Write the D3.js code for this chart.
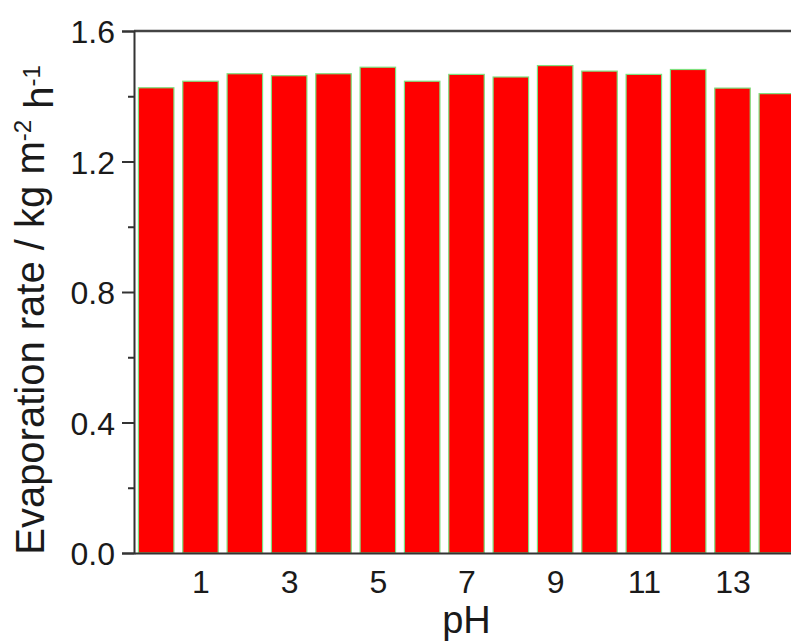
<!DOCTYPE html>
<html>
<head>
<meta charset="utf-8">
<script src="https://cdn.jsdelivr.net/npm/d3@7"></script>
<style>
  body { margin: 0; background: #fff; }
  svg { display: block; font-family: "Liberation Sans", Arial, sans-serif; }
</style>
</head>
<body>
<svg id="chart"></svg>
<script>
// pH values and evaporation rates (kg m-2 h-1)
const phValues = [0, 1, 2, 3, 4, 5, 6, 7, 8, 9, 10, 11, 12, 13, 14];
const rates = [1.426, 1.446, 1.469, 1.463, 1.469, 1.489, 1.446, 1.467, 1.459, 1.494, 1.477, 1.467, 1.482, 1.425, 1.408];
const xTickValues = [1, 3, 5, 7, 9, 11, 13];
const yTickValues = [0.0, 0.4, 0.8, 1.2, 1.6];
const yMinorTicks = [0.2, 0.6, 1.0, 1.4];

const width = 791;
const height = 641;
const margin = { top: 31, right: -8, bottom: 88, left: 134 };

const svg = d3.select("#chart")
    .attr("width", width)
    .attr("height", height);

const x = d3.scaleLinear()
    .domain([-0.5, 14.5])
    .range([margin.left, width - margin.right]);

const y = d3.scaleLinear()
    .domain([0, 1.6])
    .range([height - margin.bottom, margin.top]);

const step = x(1) - x(0);
const barWidth = step * 0.8;

// bars
svg.append("g")
    .selectAll("rect")
    .data(phValues)
    .enter()
    .append("rect")
    .attr("x", (d, i) => x(d) - barWidth / 2)
    .attr("y", (d, i) => y(rates[i]))
    .attr("width", barWidth)
    .attr("height", (d, i) => y(0) - y(rates[i]))
    .attr("fill", "#ff0000")
    .attr("stroke", "#7ee07e")
    .attr("stroke-width", 1.2);

const axisColor = "#333";

// frame (top line)
svg.append("line")
    .attr("x1", x(-0.5)).attr("x2", x(14.5))
    .attr("y1", y(1.6)).attr("y2", y(1.6))
    .attr("stroke", "#444")
    .attr("stroke-width", 2.5);

// y axis
const yAxis = svg.append("g")
    .attr("transform", `translate(${margin.left},0)`)
    .call(d3.axisLeft(y)
        .tickValues(yTickValues)
        .tickFormat(d3.format(".1f"))
        .tickSize(12)
        .tickPadding(7));

svg.append("g")
    .attr("transform", `translate(${margin.left},0)`)
    .call(d3.axisLeft(y)
        .tickValues(yMinorTicks)
        .tickFormat("")
        .tickSize(6))
    .call(g => g.select(".domain").remove());

// x axis
const xAxis = svg.append("g")
    .attr("transform", `translate(0,${y(0)})`)
    .call(d3.axisBottom(x)
        .tickValues(xTickValues)
        .tickFormat(d3.format("d"))
        .tickSize(0)
        .tickPadding(17));

svg.selectAll(".domain, .tick line")
    .attr("stroke", axisColor)
    .attr("stroke-width", 2);

svg.selectAll(".tick text")
    .attr("fill", "#1a1a1a")
    .style("font-size", "32px")
    .style("font-family", "'Liberation Sans', Arial, sans-serif");

yAxis.selectAll(".tick text").attr("dy", "0.36em");

// axis titles
svg.append("text")
    .attr("x", x(7))
    .attr("y", 633)
    .attr("text-anchor", "middle")
    .attr("fill", "#1a1a1a")
    .style("font-size", "38px")
    .text("pH");

const yTitle = svg.append("text")
    .attr("transform", "translate(44,310) rotate(-90)")
    .attr("text-anchor", "middle")
    .attr("fill", "#1a1a1a")
    .style("font-size", "40px");

yTitle.append("tspan").text("Evaporation rate / kg m");
yTitle.append("tspan").attr("dy", "-0.55em").style("font-size", "24px").text("-2");
yTitle.append("tspan").attr("dy", "0.55em").text(" h");
yTitle.append("tspan").attr("dy", "-0.55em").style("font-size", "24px").text("-1");
</script>
</body>
</html>
